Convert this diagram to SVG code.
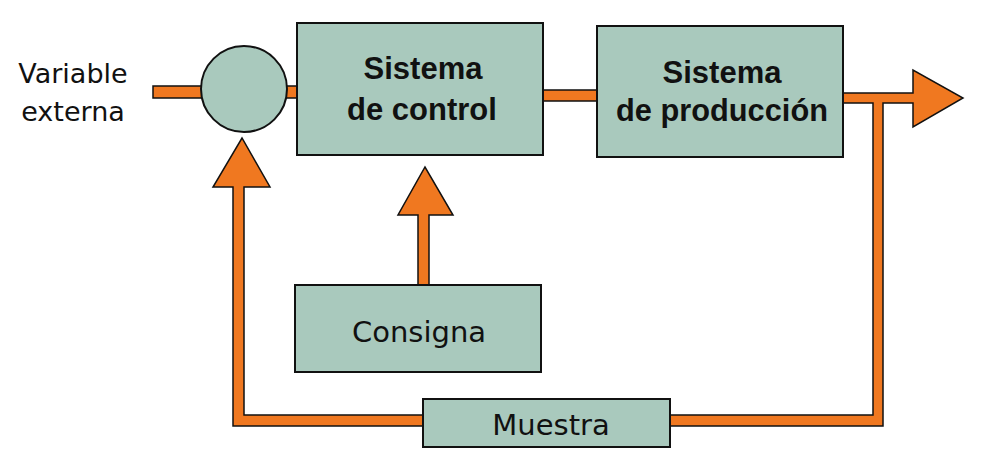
<svg xmlns="http://www.w3.org/2000/svg" width="984" height="474" viewBox="0 0 984 474">
<style>
.box{fill:#a9c9bd;stroke:#111;stroke-width:2}
.flow{fill:#f07820;stroke:#111;stroke-width:1.5;stroke-linejoin:miter}
.b{font-family:"Liberation Sans",Arial,sans-serif;font-weight:bold;font-size:31px;fill:#111;text-anchor:middle}
.r{font-family:"DejaVu Sans","Liberation Sans",sans-serif;font-size:29px;fill:#111;text-anchor:middle}
</style>
<rect width="984" height="474" fill="#ffffff"/>
<g id="connectors">
<rect class="flow" x="153" y="86" width="50" height="12"/>
<rect class="flow" x="284" y="86" width="15" height="12"/>
<rect class="flow" x="542" y="90" width="57" height="11"/>
<polygon class="flow" points="842,93 913,93 913,70 963,98 913,127 913,103 883,103 883,426 668,426 668,415 873,415 873,103 842,103"/>
<polygon class="flow" points="425,415 244,415 244,187 270,187 242,138 213,187 233,187 233,426 425,426"/>
<polygon class="flow" points="418,287 418,215 398,215 425,167 453,215 429,215 429,287"/>
</g>
<g id="entrada">
<text class="r" x="73" y="83" style="font-size:27px">Variable</text>
<text class="r" x="73" y="121" style="font-size:27px">externa</text>
</g>
<g id="comparador">
<circle class="box" cx="244" cy="89" r="43"/>
</g>
<g id="sistema-control">
<rect class="box" x="297" y="23" width="246" height="132"/>
<text class="b" x="423" y="79">Sistema</text>
<text class="b" x="422" y="120">de control</text>
</g>
<g id="sistema-produccion">
<rect class="box" x="597" y="26" width="246" height="131"/>
<text class="b" x="722" y="83">Sistema</text>
<text class="b" x="722" y="121" textLength="212" lengthAdjust="spacingAndGlyphs">de producción</text>
</g>
<g id="consigna">
<rect class="box" x="295" y="285" width="246" height="87"/>
<text class="r" x="419" y="342">Consigna</text>
</g>
<g id="muestra">
<rect class="box" x="423" y="399" width="247" height="48"/>
<text class="r" x="551" y="435">Muestra</text>
</g>
</svg>
